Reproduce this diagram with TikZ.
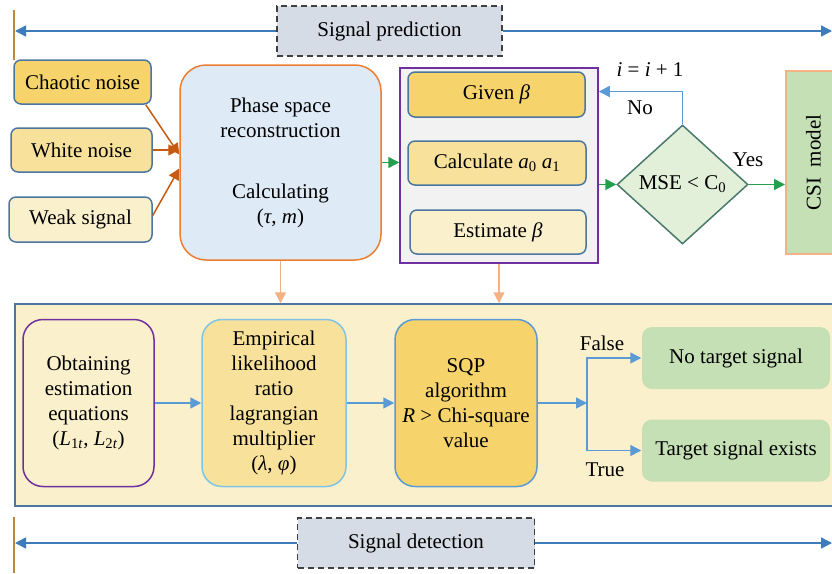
\documentclass[tikz,border=0pt]{standalone}
\usepackage{fontspec}
\setmainfont{Liberation Serif}
\usetikzlibrary{arrows.meta, positioning, calc, shapes.geometric}

\definecolor{goldA}{HTML}{F6D46B}
\definecolor{goldB}{HTML}{F8E29B}
\definecolor{goldC}{HTML}{FBF0CC}
\definecolor{edgeblue}{HTML}{4A76A0}
\definecolor{skyfill}{HTML}{DEEAF6}
\definecolor{rust}{HTML}{ED7D31}
\definecolor{brickarrow}{HTML}{C55A11}
\definecolor{peach}{HTML}{F4B183}
\definecolor{violet}{HTML}{7030A0}
\definecolor{leaf}{HTML}{22A04B}
\definecolor{mint}{HTML}{E2EFD9}
\definecolor{teal}{HTML}{4A7A6B}
\definecolor{sage}{HTML}{C5E0B4}
\definecolor{slate}{HTML}{D6DCE5}
\definecolor{lineblue}{HTML}{3E7CB9}
\definecolor{flowblue}{HTML}{5B9BD5}
\definecolor{cyanedge}{HTML}{7FC4E6}
\definecolor{tan}{HTML}{B8893E}

% italic letters and subscripts in the text font
\newcommand{\vr}[1]{\textit{#1}}
\newcommand{\sub}[1]{\textsubscript{#1}}

\tikzset{
    inbox/.style={draw=edgeblue, rounded corners=7pt, inner sep=0pt},
    tagbox/.style={draw=black!75, dash pattern=on 6pt off 4pt, fill=slate, inner sep=0pt},
    bigbox/.style={rounded corners=20pt, align=center, inner sep=0pt},
    endbox/.style={fill=sage, rounded corners=10pt, inner sep=0pt,
        minimum width=188pt, minimum height=62pt},
}

\begin{document}
\begin{tikzpicture}[x=1pt, y=-1pt, font=\fontsize{21}{25}\selectfont,
    line width=1.5pt, >={Triangle[length=11pt, width=11pt]}]
    \useasboundingbox (0,0) rectangle (832,573);
    \clip (0,0) rectangle (832,573);

    % prediction stage
    \node[tagbox, minimum width=225pt, minimum height=50pt] (pred) at (389.5,31) {Signal prediction};
    \coordinate (predL) at (15,31);
    \coordinate (predR) at (832,31);
    \draw[tan, line width=1.2pt] (14,10) -- (14,60);
    \draw[lineblue, ->] (pred) -- (predL);
    \draw[lineblue, ->] (pred) -- (predR);

    \node[inbox, fill=goldA, minimum width=137pt, minimum height=44pt] (chaotic) at (82.5,82) {Chaotic noise};
    \node[inbox, fill=goldB, minimum width=141pt, minimum height=44pt] (white) at (81.5,150) {White noise};
    \node[inbox, fill=goldC, minimum width=143pt, minimum height=45pt] (weak) at (80.5,219.5) {Weak signal};

    \node[bigbox, draw=rust, fill=skyfill, rounded corners=26pt,
        minimum width=201pt, minimum height=195pt] (phase) at (280.5,162.5)
        {Phase space\\reconstruction\\[36pt]Calculating\\(\vr{τ}, \vr{m})};

    \draw[brickarrow, ->] ($(chaotic.south east)+(-6,0)$) -- ($(phase.west)+(0,-8)$);
    \draw[brickarrow, ->] (white.east) -- (white.east -| phase.west);
    \draw[brickarrow, ->] ($(weak.east)+(0,-4)$) -- ($(phase.west)+(0,6)$);

    \node[draw=violet, fill=black!5, minimum width=198pt, minimum height=195pt, inner sep=0pt] (group) at (499,165.5) {};
    \node[inbox, fill=goldA, minimum width=177pt, minimum height=45pt] (given) at (496.5,94.5) {Given \vr{β}};
    \node[inbox, fill=goldB, minimum width=178pt, minimum height=44pt] (calc) at (497,163) {Calculate \vr{a}\sub{0} \vr{a}\sub{1}};
    \node[inbox, fill=goldC, minimum width=176pt, minimum height=44pt] (estim) at (498,232) {Estimate \vr{β}};

    \node[diamond, draw=teal, fill=mint, inner sep=0pt, minimum width=131pt,
        minimum height=119pt] (mse) at (682.5,184.5) {MSE < C\sub{0}};
    \node[draw=peach, line width=2pt, fill=sage, minimum width=55pt, minimum height=183pt,
        inner sep=0pt] (csi) at (813.5,162.5) {\rotatebox{90}{CSI\ \ model}};

    \draw[leaf, ->] (phase.east) -- (phase.east -| group.west);
    \draw[leaf, ->] (group.east |- mse.west) -- (mse.west);
    \draw[leaf, ->] (mse.east) -- (mse.east -| csi.west);
    \draw[flowblue, ->] (mse.north) |- ($(given.east -| group.east)+(0,-3)$);
    \node (inc) at (650,70) {\vr{i} = \vr{i} + 1};
    \node (no) at (640,108) {No};
    \node (yes) at (748,160) {Yes};

    % detection stage
    \node[draw=edgeblue, fill=goldC, minimum width=825pt, minimum height=202pt] (panel) at (427.5,405) {};
    \draw[peach, ->] (phase.south) -- (phase.south |- panel.north);
    \draw[peach, ->] (group.south) -- (group.south |- panel.north);

    \node[bigbox, draw=violet, fill=goldC, minimum width=131pt, minimum height=167pt] (obtain) at (88.5,403)
        {Obtaining\\estimation\\equations\\(\vr{L}\sub{1\vr{t}}, \vr{L}\sub{2\vr{t}})};
    \node[bigbox, draw=cyanedge, fill=goldB, minimum width=144pt, minimum height=167pt] (empir) at (274,403)
        {Empirical\\likelihood\\ratio\\lagrangian\\multiplier\\(\vr{λ}, \vr{φ})};
    \node[bigbox, draw=flowblue, fill=goldA, minimum width=142pt, minimum height=167pt] (sqp) at (466,403)
        {SQP\\algorithm\\\vr{R} > Chi-square\\value};
    \node[endbox] (notarget) at (736,358) {No target signal};
    \node[endbox] (target) at (736,450.5) {Target signal exists};
    \coordinate (fork) at (587,403);

    \draw[flowblue, ->] (obtain.east) -- (empir.west);
    \draw[flowblue, ->] (empir.east) -- (sqp.west);
    \draw[flowblue, ->] (sqp.east) -- (fork);
    \draw[flowblue, ->] (fork) |- (notarget.west);
    \draw[flowblue, ->] (fork) |- (target.west);
    \node (false) at (602,343) {False};
    \node (true) at (605,470) {True};

    \node[tagbox, minimum width=237pt, minimum height=50pt] (detect) at (416,543) {Signal detection};
    \coordinate (detL) at (15,543);
    \coordinate (detR) at (832,543);
    \draw[tan, line width=1.2pt] (14,517) -- (14,573);
    \draw[lineblue, ->] (detect) -- (detL);
    \draw[lineblue, ->] (detect) -- (detR);
\end{tikzpicture}
\end{document}
